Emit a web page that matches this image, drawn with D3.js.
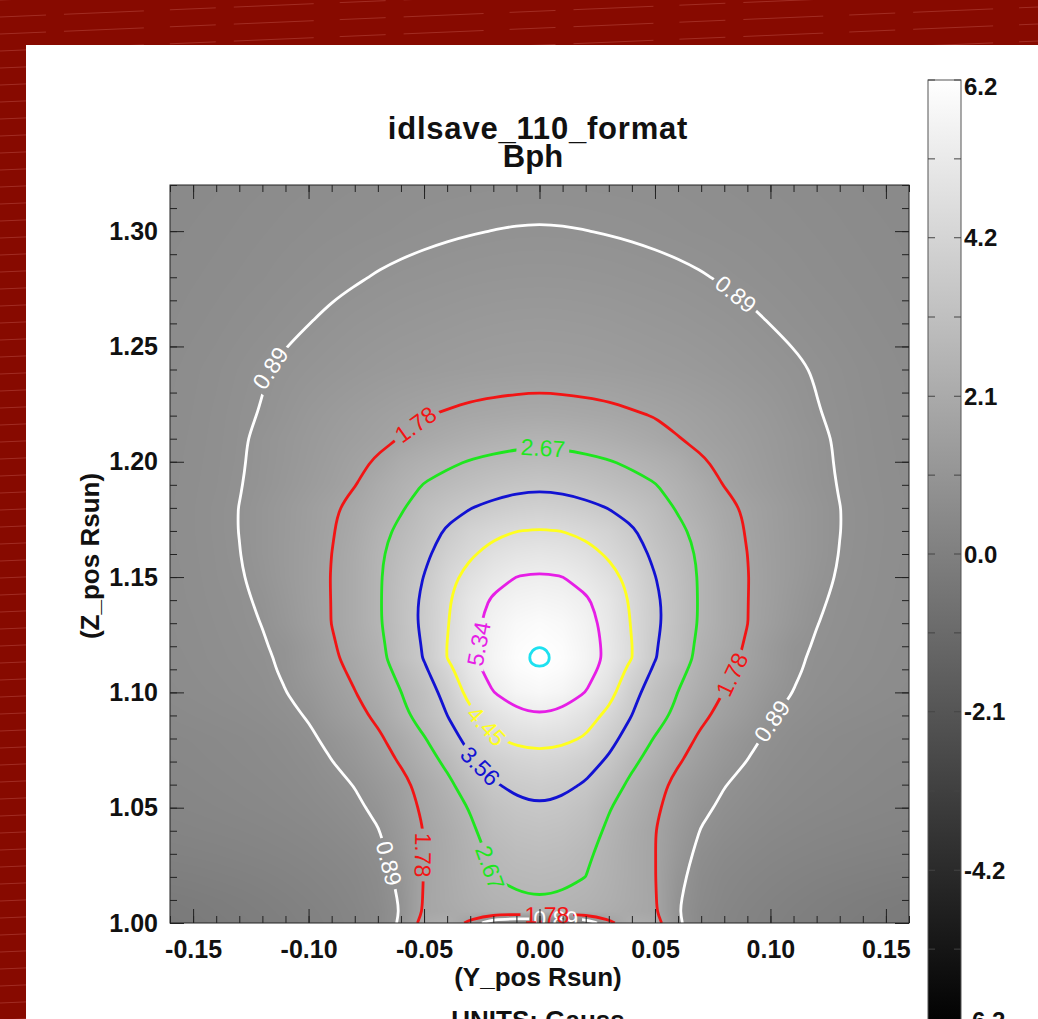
<!DOCTYPE html>
<html>
<head>
<meta charset="utf-8">
<title>idlsave_110_format Bph</title>
<script src="https://cdn.jsdelivr.net/npm/d3@7"></script>
<style>
  body { margin: 0; background: #870a00; overflow: hidden; }
  text { font-family: "Liberation Sans", Arial, Helvetica, sans-serif; }
</style>
</head>
<body>
<div id="chart"></div>
<script>
// grid columns (Y_pos, Rsun)
const colX = [-0.16, -0.15, -0.14, -0.13, -0.12, -0.11, -0.10, -0.09, -0.08, -0.07, -0.06, -0.05, -0.04, -0.03, -0.02, -0.01, 0.00,
  0.01, 0.02, 0.03, 0.04, 0.05, 0.06, 0.07, 0.08, 0.09, 0.10, 0.11, 0.12, 0.13, 0.14, 0.15, 0.16]
// grid rows (Z_pos, Rsun), top row first
const rowZ = [1.32, 1.30, 1.28, 1.26, 1.24, 1.22, 1.21, 1.20, 1.19, 1.18, 1.17, 1.16, 1.15, 1.14, 1.13, 1.12, 1.115, 1.11,
  1.10, 1.09, 1.08, 1.07, 1.06, 1.05, 1.04, 1.03, 1.02, 1.01, 1.005, 1.00]
// Bph (Gauss), one row per rowZ
const bph = [
  [0.49, 0.51, 0.53, 0.56, 0.58, 0.61, 0.63, 0.66, 0.68, 0.70, 0.72, 0.74, 0.75, 0.76, 0.77, 0.78, 0.78, 0.78, 0.77, 0.76, 0.75, 0.74, 0.72, 0.70, 0.68, 0.66, 0.63, 0.61, 0.58, 0.56, 0.53, 0.51, 0.49],
  [0.52, 0.545, 0.57, 0.60, 0.63, 0.66, 0.69, 0.72, 0.745, 0.77, 0.80, 0.83, 0.855, 0.875, 0.893, 0.905, 0.91, 0.905, 0.893, 0.875, 0.855, 0.83, 0.80, 0.77, 0.745, 0.72, 0.69, 0.66, 0.63, 0.60, 0.57, 0.545, 0.52],
  [0.55, 0.58, 0.61, 0.645, 0.68, 0.725, 0.77, 0.815, 0.86, 0.91, 0.95, 0.98, 1.01, 1.04, 1.06, 1.075, 1.08, 1.075, 1.06, 1.04, 1.01, 0.98, 0.95, 0.91, 0.86, 0.815, 0.77, 0.725, 0.68, 0.645, 0.61, 0.58, 0.55],
  [0.58, 0.62, 0.66, 0.71, 0.76, 0.82, 0.885, 0.955, 1.02, 1.07, 1.12, 1.16, 1.20, 1.24, 1.27, 1.29, 1.30, 1.29, 1.27, 1.24, 1.20, 1.16, 1.12, 1.07, 1.02, 0.955, 0.885, 0.82, 0.76, 0.71, 0.66, 0.62, 0.58],
  [0.62, 0.67, 0.72, 0.79, 0.865, 0.95, 1.03, 1.105, 1.18, 1.25, 1.31, 1.35, 1.40, 1.44, 1.47, 1.49, 1.50, 1.49, 1.47, 1.44, 1.40, 1.35, 1.31, 1.25, 1.18, 1.105, 1.03, 0.95, 0.865, 0.79, 0.72, 0.67, 0.62],
  [0.64, 0.69, 0.75, 0.83, 0.91, 1.05, 1.20, 1.32, 1.44, 1.55, 1.66, 1.76, 1.84, 1.93, 1.98, 2.03, 2.06, 2.03, 1.98, 1.93, 1.84, 1.76, 1.66, 1.55, 1.44, 1.32, 1.20, 1.05, 0.91, 0.83, 0.75, 0.69, 0.64],
  [0.65, 0.70, 0.76, 0.84, 0.98, 1.12, 1.26, 1.40, 1.53, 1.66, 1.80, 1.99, 2.14, 2.27, 2.38, 2.46, 2.50, 2.46, 2.38, 2.27, 2.14, 1.99, 1.80, 1.66, 1.53, 1.40, 1.26, 1.12, 0.98, 0.84, 0.76, 0.70, 0.65],
  [0.66, 0.71, 0.77, 0.85, 0.99, 1.14, 1.30, 1.47, 1.66, 1.84, 2.18, 2.38, 2.55, 2.71, 2.82, 2.90, 2.95, 2.90, 2.82, 2.71, 2.55, 2.38, 2.18, 1.84, 1.66, 1.47, 1.30, 1.14, 0.99, 0.85, 0.77, 0.71, 0.66],
  [0.67, 0.72, 0.78, 0.87, 1.01, 1.18, 1.36, 1.54, 1.76, 2.12, 2.42, 2.70, 2.90, 3.08, 3.24, 3.36, 3.42, 3.36, 3.24, 3.08, 2.90, 2.70, 2.42, 2.12, 1.76, 1.54, 1.36, 1.18, 1.01, 0.87, 0.78, 0.72, 0.67],
  [0.68, 0.73, 0.80, 0.895, 1.08, 1.27, 1.48, 1.70, 1.96, 2.28, 2.60, 3.02, 3.30, 3.54, 3.74, 3.88, 3.95, 3.88, 3.74, 3.54, 3.30, 3.02, 2.60, 2.28, 1.96, 1.70, 1.48, 1.27, 1.08, 0.895, 0.80, 0.73, 0.68],
  [0.68, 0.73, 0.80, 0.895, 1.08, 1.28, 1.50, 1.74, 2.04, 2.46, 2.82, 3.20, 3.65, 4.05, 4.28, 4.44, 4.50, 4.44, 4.28, 4.05, 3.65, 3.20, 2.82, 2.46, 2.04, 1.74, 1.50, 1.28, 1.08, 0.895, 0.80, 0.73, 0.68],
  [0.67, 0.72, 0.79, 0.88, 1.08, 1.29, 1.52, 1.78, 2.12, 2.55, 2.98, 3.40, 3.95, 4.35, 4.72, 4.92, 5.00, 4.92, 4.72, 4.35, 3.95, 3.40, 2.98, 2.55, 2.12, 1.78, 1.52, 1.29, 1.08, 0.88, 0.79, 0.72, 0.67],
  [0.66, 0.71, 0.78, 0.85, 1.03, 1.28, 1.53, 1.80, 2.14, 2.58, 3.10, 3.58, 4.22, 4.72, 5.10, 5.35, 5.42, 5.35, 5.10, 4.72, 4.22, 3.58, 3.10, 2.58, 2.14, 1.80, 1.53, 1.28, 1.03, 0.85, 0.78, 0.71, 0.66],
  [0.65, 0.70, 0.76, 0.82, 0.95, 1.22, 1.52, 1.79, 2.14, 2.58, 3.15, 3.70, 4.35, 5.00, 5.43, 5.66, 5.75, 5.66, 5.43, 5.00, 4.35, 3.70, 3.15, 2.58, 2.14, 1.79, 1.52, 1.22, 0.95, 0.82, 0.76, 0.70, 0.65],
  [0.63, 0.68, 0.74, 0.80, 0.90, 1.16, 1.48, 1.79, 2.14, 2.58, 3.15, 3.72, 4.40, 5.10, 5.62, 5.93, 6.05, 5.93, 5.62, 5.10, 4.40, 3.72, 3.15, 2.58, 2.14, 1.79, 1.48, 1.16, 0.90, 0.80, 0.74, 0.68, 0.63],
  [0.62, 0.66, 0.72, 0.77, 0.855, 0.99, 1.33, 1.70, 2.08, 2.45, 3.12, 3.62, 4.46, 5.15, 5.70, 6.08, 6.22, 6.08, 5.70, 5.15, 4.46, 3.62, 3.12, 2.45, 2.08, 1.70, 1.33, 0.99, 0.855, 0.77, 0.72, 0.66, 0.62],
  [0.61, 0.65, 0.71, 0.76, 0.82, 0.97, 1.31, 1.68, 1.98, 2.42, 3.10, 3.60, 4.46, 5.16, 5.73, 6.12, 6.31, 6.12, 5.73, 5.16, 4.46, 3.60, 3.10, 2.42, 1.98, 1.68, 1.31, 0.97, 0.82, 0.76, 0.71, 0.65, 0.61],
  [0.60, 0.64, 0.69, 0.74, 0.80, 0.95, 1.28, 1.60, 1.92, 2.35, 2.90, 3.45, 4.20, 5.05, 5.65, 6.05, 6.20, 6.05, 5.65, 5.05, 4.20, 3.45, 2.90, 2.35, 1.92, 1.60, 1.28, 0.95, 0.80, 0.74, 0.69, 0.64, 0.60],
  [0.57, 0.61, 0.65, 0.70, 0.76, 0.88, 1.12, 1.45, 1.76, 2.18, 2.66, 3.15, 3.82, 4.75, 5.33, 5.75, 5.90, 5.75, 5.33, 4.75, 3.82, 3.15, 2.66, 2.18, 1.76, 1.45, 1.12, 0.88, 0.76, 0.70, 0.65, 0.61, 0.57],
  [0.50, 0.54, 0.58, 0.62, 0.68, 0.78, 0.93, 1.28, 1.58, 1.92, 2.48, 3.00, 3.56, 4.25, 4.80, 5.15, 5.30, 5.15, 4.80, 4.25, 3.56, 3.00, 2.48, 1.92, 1.58, 1.28, 0.93, 0.78, 0.68, 0.62, 0.58, 0.54, 0.50],
  [0.42, 0.45, 0.49, 0.53, 0.58, 0.66, 0.80, 1.02, 1.30, 1.66, 2.10, 2.62, 3.25, 3.80, 4.38, 4.62, 4.70, 4.62, 4.38, 3.80, 3.25, 2.62, 2.10, 1.66, 1.30, 1.02, 0.80, 0.66, 0.58, 0.53, 0.49, 0.45, 0.42],
  [0.38, 0.41, 0.45, 0.49, 0.54, 0.60, 0.70, 0.88, 1.12, 1.45, 1.85, 2.35, 2.82, 3.45, 3.85, 4.10, 4.20, 4.10, 3.85, 3.45, 2.82, 2.35, 1.85, 1.45, 1.12, 0.88, 0.70, 0.60, 0.54, 0.49, 0.45, 0.41, 0.38],
  [0.33, 0.36, 0.40, 0.44, 0.48, 0.54, 0.62, 0.75, 0.91, 1.22, 1.55, 2.05, 2.50, 3.05, 3.50, 3.70, 3.80, 3.70, 3.50, 3.05, 2.50, 2.05, 1.55, 1.22, 0.91, 0.75, 0.62, 0.54, 0.48, 0.44, 0.40, 0.36, 0.33],
  [0.28, 0.31, 0.34, 0.38, 0.42, 0.47, 0.54, 0.64, 0.78, 1.02, 1.45, 1.90, 2.30, 2.72, 3.20, 3.42, 3.50, 3.42, 3.20, 2.72, 2.30, 1.90, 1.45, 1.02, 0.78, 0.64, 0.54, 0.47, 0.42, 0.38, 0.34, 0.31, 0.28],
  [0.20, 0.23, 0.26, 0.29, 0.33, 0.38, 0.44, 0.53, 0.65, 0.86, 1.30, 1.79, 2.15, 2.55, 2.98, 3.18, 3.25, 3.18, 2.98, 2.55, 2.15, 1.79, 1.30, 0.86, 0.65, 0.53, 0.44, 0.38, 0.33, 0.29, 0.26, 0.23, 0.20],
  [0.09, 0.12, 0.15, 0.19, 0.23, 0.28, 0.34, 0.42, 0.52, 0.70, 1.20, 1.80, 2.10, 2.45, 2.78, 2.96, 3.02, 2.96, 2.78, 2.45, 2.10, 1.80, 1.20, 0.70, 0.52, 0.42, 0.34, 0.28, 0.23, 0.19, 0.15, 0.12, 0.09],
  [-0.05, -0.02, 0.02, 0.06, 0.11, 0.17, 0.24, 0.32, 0.42, 0.60, 1.05, 1.80, 2.10, 2.40, 2.67, 2.78, 2.83, 2.78, 2.67, 2.40, 2.10, 1.80, 1.05, 0.60, 0.42, 0.32, 0.24, 0.17, 0.11, 0.06, 0.02, -0.02, -0.05],
  [-0.20, -0.16, -0.11, -0.06, 0.00, 0.07, 0.15, 0.24, 0.36, 0.55, 0.95, 1.84, 2.08, 2.32, 2.50, 2.60, 2.64, 2.60, 2.50, 2.32, 2.08, 1.84, 0.95, 0.55, 0.36, 0.24, 0.15, 0.07, 0.00, -0.06, -0.11, -0.16, -0.20],
  [-0.24, -0.20, -0.15, -0.10, -0.04, 0.03, 0.11, 0.20, 0.32, 0.50, 0.93, 1.86, 2.02, 2.22, 2.38, 2.47, 2.50, 2.47, 2.38, 2.22, 2.02, 1.86, 0.93, 0.50, 0.32, 0.20, 0.11, 0.03, -0.04, -0.10, -0.15, -0.20, -0.24],
  [-0.27, -0.23, -0.18, -0.13, -0.07, 0.00, 0.08, 0.18, 0.30, 0.50, 0.98, 2.10, 2.30, 1.60, 0.20, 0.00, 0.00, 0.00, 0.20, 1.60, 2.30, 2.10, 0.98, 0.50, 0.30, 0.18, 0.08, 0.00, -0.07, -0.13, -0.18, -0.23, -0.27]
]

const levels = [0.89, 1.78, 2.67, 3.56, 4.45, 5.34, 6.23]
const levelColors = ["#ffffff", "#f21414", "#1ee61e", "#1212d2", "#ffff1e", "#e61ee6", "#1ee1f0"]
// [level index, Y_pos, Z_pos, vertical reading (+1 down, -1 up)]
const labelSpots = [
  [0, -0.1167, 1.2407], [0, 0.0847, 1.2723], [0, 0.1011, 1.0872], [0, -0.0626, 1.0265], [0, 0.007, 1.0016],
  [1, -0.0552, 1.2181], [1, 0.0812, 1.1088], [1, -0.0466, 1.0295, 1], [1, 0.0032, 1.0036],
  [2, 0.0015, 1.206], [2, -0.0206, 1.0243],
  [3, -0.0266, 1.0672],
  [4, -0.0184, 1.0889],
  [5, -0.0292, 1.1214, -1]
]

const xTicks = [-0.15, -0.10, -0.05, 0.00, 0.05, 0.10, 0.15]
const xTickLabels = ["-0.15", "-0.10", "-0.05", "0.00", "0.05", "0.10", "0.15"]
const yTicks = [1.00, 1.05, 1.10, 1.15, 1.20, 1.25, 1.30]
const yTickLabels = ["1.00", "1.05", "1.10", "1.15", "1.20", "1.25", "1.30"]
const cbTicks = [-6.25, -4.17, -2.08, 0.00, 2.08, 4.17, 6.25]
const cbTickLabels = ["-6.2", "-4.2", "-2.1", "0.0", "2.1", "4.2", "6.2"]

const W = 1038, H = 1019
const plot = { left: 170, top: 185, width: 739, height: 738 }
const cbBox = { left: 928, width: 33, top: 80, bottom: 1028 }

const x = d3.scaleLinear().domain([-0.16, 0.16]).range([plot.left, plot.left + plot.width])
const y = d3.scaleLinear().domain([1.00, 1.32]).range([plot.top + plot.height, plot.top])
const gray = d3.scaleLinear().domain([-6.25, 6.25]).range([0, 255]).clamp(true)
const cb = d3.scaleLinear().domain([-6.25, 6.25]).range([cbBox.bottom, cbBox.top])

const nx = colX.length, ny = rowZ.length
const svg = d3.select("#chart").append("svg").attr("width", W).attr("height", H)
const defs = svg.append("defs")

// page backdrop
svg.append("rect").attr("width", W).attr("height", H).attr("fill", "#870a00")
const streaks = svg.append("g").attr("stroke", "rgba(255,170,160,0.22)").attr("stroke-width", 1)
  .attr("stroke-dasharray", "46 18 80 26")
d3.range(-2, 64).forEach(k => {
  streaks.append("line").attr("x1", 0).attr("y1", k * 17).attr("x2", W).attr("y2", k * 17 - 44)
})
svg.append("rect").attr("x", 26).attr("y", 45).attr("width", W - 26).attr("height", H - 45).attr("fill", "#fff")

// background image, bilinear between grid nodes
const colIdx = d3.scaleLinear().domain(colX).range(d3.range(nx)).clamp(true)
const rowIdx = d3.scaleLinear().domain(rowZ).range(d3.range(ny)).clamp(true)
const canvas = document.createElement("canvas")
canvas.width = plot.width
canvas.height = plot.height
const ctx = canvas.getContext("2d")
const img = ctx.createImageData(plot.width, plot.height)
const colPos = d3.range(plot.width).map(i => {
  const f = colIdx(x.invert(plot.left + i + 0.5))
  const c0 = Math.min(nx - 2, Math.floor(f))
  return [c0, f - c0]
})
for (let j = 0; j < plot.height; j++) {
  const fr = rowIdx(y.invert(plot.top + j + 0.5))
  const r0 = Math.min(ny - 2, Math.floor(fr)), tr = fr - r0
  const a = bph[r0], b = bph[r0 + 1]
  for (let i = 0; i < plot.width; i++) {
    const [c0, tc] = colPos[i]
    const top = a[c0] * (1 - tc) + a[c0 + 1] * tc
    const bot = b[c0] * (1 - tc) + b[c0 + 1] * tc
    const g = Math.round(gray(top * (1 - tr) + bot * tr))
    const k = (j * plot.width + i) * 4
    img.data[k] = g; img.data[k + 1] = g; img.data[k + 2] = g; img.data[k + 3] = 255
  }
}
ctx.putImageData(img, 0, 0)
svg.append("image").attr("x", plot.left).attr("y", plot.top)
  .attr("width", plot.width).attr("height", plot.height)
  .attr("preserveAspectRatio", "none")
  .attr("href", canvas.toDataURL())

// contour lines
const gx = d3.scaleLinear().domain(d3.range(nx)).range(colX).clamp(true)
const gy = d3.scaleLinear().domain(d3.range(ny)).range(rowZ).clamp(true)
const toData = p => [gx(p[0] - 0.5), gy(p[1] - 0.5)]
const eps = 1e-9
const sides = p => {
  const s = []
  if (Math.abs(p[0] - colX[0]) < eps) s.push("L")
  if (Math.abs(p[0] - colX[nx - 1]) < eps) s.push("R")
  if (Math.abs(p[1] - rowZ[0]) < eps) s.push("T")
  if (Math.abs(p[1] - rowZ[ny - 1]) < eps) s.push("B")
  return s
}
const onBorder = (a, b) => { const sb = sides(b); return sides(a).some(s => sb.includes(s)) }

const ringToPaths = ring => {
  let pts = ring.map(toData)
  const f = pts[0], l = pts[pts.length - 1]
  if (pts.length > 1 && f[0] === l[0] && f[1] === l[1]) pts = pts.slice(0, -1)
  const n = pts.length
  const border = d3.range(n).map(i => onBorder(pts[i], pts[(i + 1) % n]))
  if (!border.some(Boolean)) return [{ closed: true, pts }]
  const start = border.indexOf(true)
  const out = []
  let cur = null
  for (let k = 1; k <= n; k++) {
    const i = (start + k) % n
    if (border[i]) {
      if (cur && cur.length > 1) out.push({ closed: false, pts: cur })
      cur = null
    } else {
      if (!cur) cur = [pts[i]]
      cur.push(pts[(i + 1) % n])
    }
  }
  if (cur && cur.length > 1) out.push({ closed: false, pts: cur })
  return out
}

const contours = d3.contours().size([nx, ny]).thresholds(levels)(bph.flat())
const pathsByLevel = levels.map(v => {
  const c = contours.find(d => Math.abs(d.value - v) < 1e-6)
  if (!c) return []
  return c.coordinates.flat().flatMap(ringToPaths)
})

const lineOpen = d3.line().x(d => x(d[0])).y(d => y(d[1])).curve(d3.curveBasis)
const lineClosed = d3.line().x(d => x(d[0])).y(d => y(d[1])).curve(d3.curveBasisClosed)
const lineSmall = d3.line().x(d => x(d[0])).y(d => y(d[1])).curve(d3.curveCardinalClosed.tension(-0.66))
const pathD = d => !d.closed ? lineOpen(d.pts) : (d.pts.length > 6 ? lineClosed(d.pts) : lineSmall(d.pts))

defs.append("clipPath").attr("id", "plot-clip").append("rect")
  .attr("x", plot.left).attr("y", plot.top).attr("width", plot.width).attr("height", plot.height)

// label placement along the nearest contour
const nearestOn = (paths, px, py) => {
  let best = null
  paths.forEach(p => {
    const s = p.pts.map(d => [x(d[0]), y(d[1])])
    const m = p.closed ? s.length : s.length - 1
    const at = i => p.closed ? s[(i + s.length) % s.length] : s[Math.max(0, Math.min(s.length - 1, i))]
    for (let i = 0; i < m; i++) {
      const a = at(i), b = at(i + 1)
      const dx = b[0] - a[0], dy = b[1] - a[1], L2 = dx * dx + dy * dy || 1e-9
      const t = Math.max(0, Math.min(1, ((px - a[0]) * dx + (py - a[1]) * dy) / L2))
      const qx = a[0] + t * dx, qy = a[1] + t * dy
      const d2 = (qx - px) ** 2 + (qy - py) ** 2
      if (!best || d2 < best.d2) {
        const a2 = at(i - 1), b2 = at(i + 2)
        best = { d2, qx, qy, ang: Math.atan2(b2[1] - a2[1], b2[0] - a2[0]) * 180 / Math.PI }
      }
    }
  })
  return best
}

const fmt = d3.format(".2f")
const labels = labelSpots.map(([li, lx, lz, vert]) => {
  const hit = nearestOn(pathsByLevel[li], x(lx), y(lz))
  let ang = hit.ang
  if (ang > 90) ang -= 180
  if (ang <= -90) ang += 180
  if (vert > 0 && ang < -60) ang += 180
  if (vert < 0 && ang > 60) ang -= 180
  return { li, px: hit.qx, py: hit.qy, ang }
})

const contourG = svg.append("g").attr("clip-path", "url(#plot-clip)")
const labelG = svg.append("g")
levels.forEach((v, li) => {
  const mask = defs.append("mask").attr("id", "gap-" + li).attr("maskUnits", "userSpaceOnUse")
    .attr("x", 0).attr("y", 0).attr("width", W).attr("height", H)
  mask.append("rect").attr("width", W).attr("height", H).attr("fill", "#fff")
  labels.filter(d => d.li === li).forEach(d => {
    const t = labelG.append("text")
      .attr("transform", `translate(${d.px},${d.py}) rotate(${d.ang})`)
      .attr("text-anchor", "middle").attr("dy", "0.36em")
      .attr("font-size", 23).attr("fill", levelColors[li])
      .text(fmt(v))
    const w = t.node().getComputedTextLength() + 8
    mask.append("rect").attr("transform", `translate(${d.px},${d.py}) rotate(${d.ang})`)
      .attr("x", -w / 2).attr("y", -10).attr("width", w).attr("height", 20).attr("fill", "#000")
  })
  contourG.append("g").attr("mask", `url(#gap-${li})`)
    .selectAll("path").data(pathsByLevel[li]).join("path")
    .attr("d", pathD)
    .attr("fill", "none").attr("stroke", levelColors[li]).attr("stroke-width", 2.8)
    .attr("stroke-linejoin", "round")
})
labelG.raise()

// axes, ticks pointing inward on all sides
const styleAxis = g => {
  g.select(".domain").remove()
  g.selectAll("line").attr("stroke", "#222")
}
const xMinor = d3.range(-16, 17).map(k => k / 100)
const yMinor = d3.range(100, 133).map(k => k / 100)
const bottomY = plot.top + plot.height, rightX = plot.left + plot.width

svg.append("g").attr("transform", `translate(0,${bottomY})`)
  .call(d3.axisBottom(x).tickValues(xMinor).tickSize(-7).tickFormat("")).call(styleAxis)
svg.append("g").attr("transform", `translate(0,${plot.top})`)
  .call(d3.axisTop(x).tickValues(xMinor).tickSize(-7).tickFormat("")).call(styleAxis)
svg.append("g").attr("transform", `translate(${plot.left},0)`)
  .call(d3.axisLeft(y).tickValues(yMinor).tickSize(-7).tickFormat("")).call(styleAxis)
svg.append("g").attr("transform", `translate(${rightX},0)`)
  .call(d3.axisRight(y).tickValues(yMinor).tickSize(-7).tickFormat("")).call(styleAxis)

svg.append("g").attr("transform", `translate(0,${bottomY})`)
  .call(d3.axisBottom(x).tickValues(xTicks).tickSize(-14).tickPadding(17).tickFormat((d, i) => xTickLabels[i]))
  .call(styleAxis)
svg.append("g").attr("transform", `translate(0,${plot.top})`)
  .call(d3.axisTop(x).tickValues(xTicks).tickSize(-14).tickFormat("")).call(styleAxis)
svg.append("g").attr("transform", `translate(${plot.left},0)`)
  .call(d3.axisLeft(y).tickValues(yTicks).tickSize(-14).tickPadding(12).tickFormat((d, i) => yTickLabels[i]))
  .call(styleAxis)
svg.append("g").attr("transform", `translate(${rightX},0)`)
  .call(d3.axisRight(y).tickValues(yTicks).tickSize(-14).tickFormat("")).call(styleAxis)

svg.selectAll(".tick text").attr("font-family", "Liberation Sans, Arial, sans-serif")
  .attr("font-size", 25).attr("font-weight", "bold").attr("fill", "#111")

svg.append("rect").attr("x", plot.left).attr("y", plot.top).attr("width", plot.width).attr("height", plot.height)
  .attr("fill", "none").attr("stroke", "#222").attr("stroke-width", 1)

// titles
const title = svg.append("g").attr("font-weight", "bold").attr("fill", "#111").attr("text-anchor", "middle")
title.append("text").attr("x", 538).attr("y", 139).attr("font-size", 31).attr("letter-spacing", 0.8)
  .text("idlsave_110_format")
title.append("text").attr("x", 533).attr("y", 167).attr("font-size", 31).text("Bph")
title.append("text").attr("x", 538).attr("y", 986).attr("font-size", 26).text("(Y_pos Rsun)")
title.append("text").attr("x", 538).attr("y", 1029).attr("font-size", 26).text("UNITS: Gauss")
title.append("text").attr("transform", "translate(99,556) rotate(-90)").attr("font-size", 26).text("(Z_pos Rsun)")

// colour bar
const grad = defs.append("linearGradient").attr("id", "cb-grad").attr("x1", 0).attr("y1", 1).attr("x2", 0).attr("y2", 0)
grad.append("stop").attr("offset", 0).attr("stop-color", d3.rgb(gray(-6.25), gray(-6.25), gray(-6.25)))
grad.append("stop").attr("offset", 1).attr("stop-color", d3.rgb(gray(6.25), gray(6.25), gray(6.25)))
svg.append("rect").attr("x", cbBox.left).attr("y", cbBox.top)
  .attr("width", cbBox.width).attr("height", cbBox.bottom - cbBox.top)
  .attr("fill", "url(#cb-grad)").attr("stroke", "#555").attr("stroke-width", 1)
const cbAll = cbTicks.concat(d3.pairs(cbTicks).map(([a, b]) => (a + b) / 2))
svg.append("g").attr("stroke", "#444")
  .selectAll("g").data(cbAll).join("g")
  .call(g => g.append("line").attr("x1", cbBox.left).attr("x2", cbBox.left + 7)
    .attr("y1", d => cb(d)).attr("y2", d => cb(d)))
  .call(g => g.append("line").attr("x1", cbBox.left + cbBox.width - 7).attr("x2", cbBox.left + cbBox.width)
    .attr("y1", d => cb(d)).attr("y2", d => cb(d)))
svg.append("g").attr("font-weight", "bold").attr("font-size", 24).attr("fill", "#111")
  .selectAll("text").data(cbTicks).join("text")
  .attr("x", cbBox.left + cbBox.width + 3)
  .attr("y", d => Math.max(cbBox.top + 6, Math.min(cbBox.bottom - 8, cb(d))))
  .attr("dy", "0.36em")
  .text((d, i) => cbTickLabels[i])
</script>
</body>
</html>
